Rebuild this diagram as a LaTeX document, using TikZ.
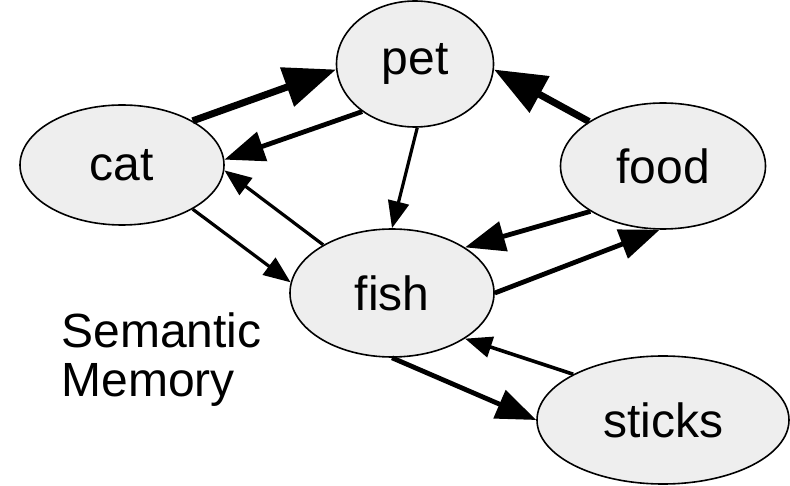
\documentclass[tikz,border=0pt]{standalone}
\usepackage{fontspec}
\setmainfont{Liberation Sans}
\usetikzlibrary{shapes.geometric,arrows.meta}
\definecolor{conceptfill}{HTML}{EEEEEE}
\tikzset{
  ConceptStyle/.style = { ellipse, draw, line width=1.6pt, fill=conceptfill,
                         inner sep=0pt, font = \fontsize{48}{52}\selectfont },
  ThinEdge/.style  = { line width=3.2pt, -{Triangle[length=27pt,width=21pt]} },
  MidEdge/.style   = { line width=4.8pt, -{Triangle[length=40pt,width=30pt]} },
  HeavyEdge/.style = { line width=7pt,   -{Triangle[length=52pt,width=40pt]} } }

\begin{document}
\begin{tikzpicture}[x=1pt,y=-1pt]
  \useasboundingbox (0,0) rectangle (790,486);

  \node[ConceptStyle, minimum width=204pt, minimum height=120pt] (cat)    at (122,165) {cat};
  \node[ConceptStyle, minimum width=157pt, minimum height=126pt] (pet)    at (415,64)  {pet};
  \node[ConceptStyle, minimum width=205pt, minimum height=126pt] (food)   at (663,166) {food};
  \node[ConceptStyle, minimum width=204pt, minimum height=128pt] (fish)   at (392,293) {fish};
  \node[ConceptStyle, minimum width=252pt, minimum height=128pt] (sticks) at (663,420) {sticks};

  \node[anchor=west, align=left, font = \fontsize{48}{49}\selectfont] (memory) at (58,360)
    {Semantic\\Memory};

  \draw[HeavyEdge] (cat.32)   -- (pet.184);
  \draw[HeavyEdge] (food.149) -- (pet.-4);

  \draw[MidEdge] (pet.222)  -- (cat.3);
  \draw[MidEdge] (food.212) -- (fish.32);
  \draw[MidEdge] (fish.0)   -- (food.267);
  \draw[MidEdge] (fish.-90) -- (sticks.180);

  \draw[ThinEdge] (fish.145)   -- (cat.-3);
  \draw[ThinEdge] (cat.-32)    -- (fish.174);
  \draw[ThinEdge] (pet.272)    -- (fish.90);
  \draw[ThinEdge, line width=3.6pt] (sticks.153) -- (fish.-32);
\end{tikzpicture}
\end{document}
